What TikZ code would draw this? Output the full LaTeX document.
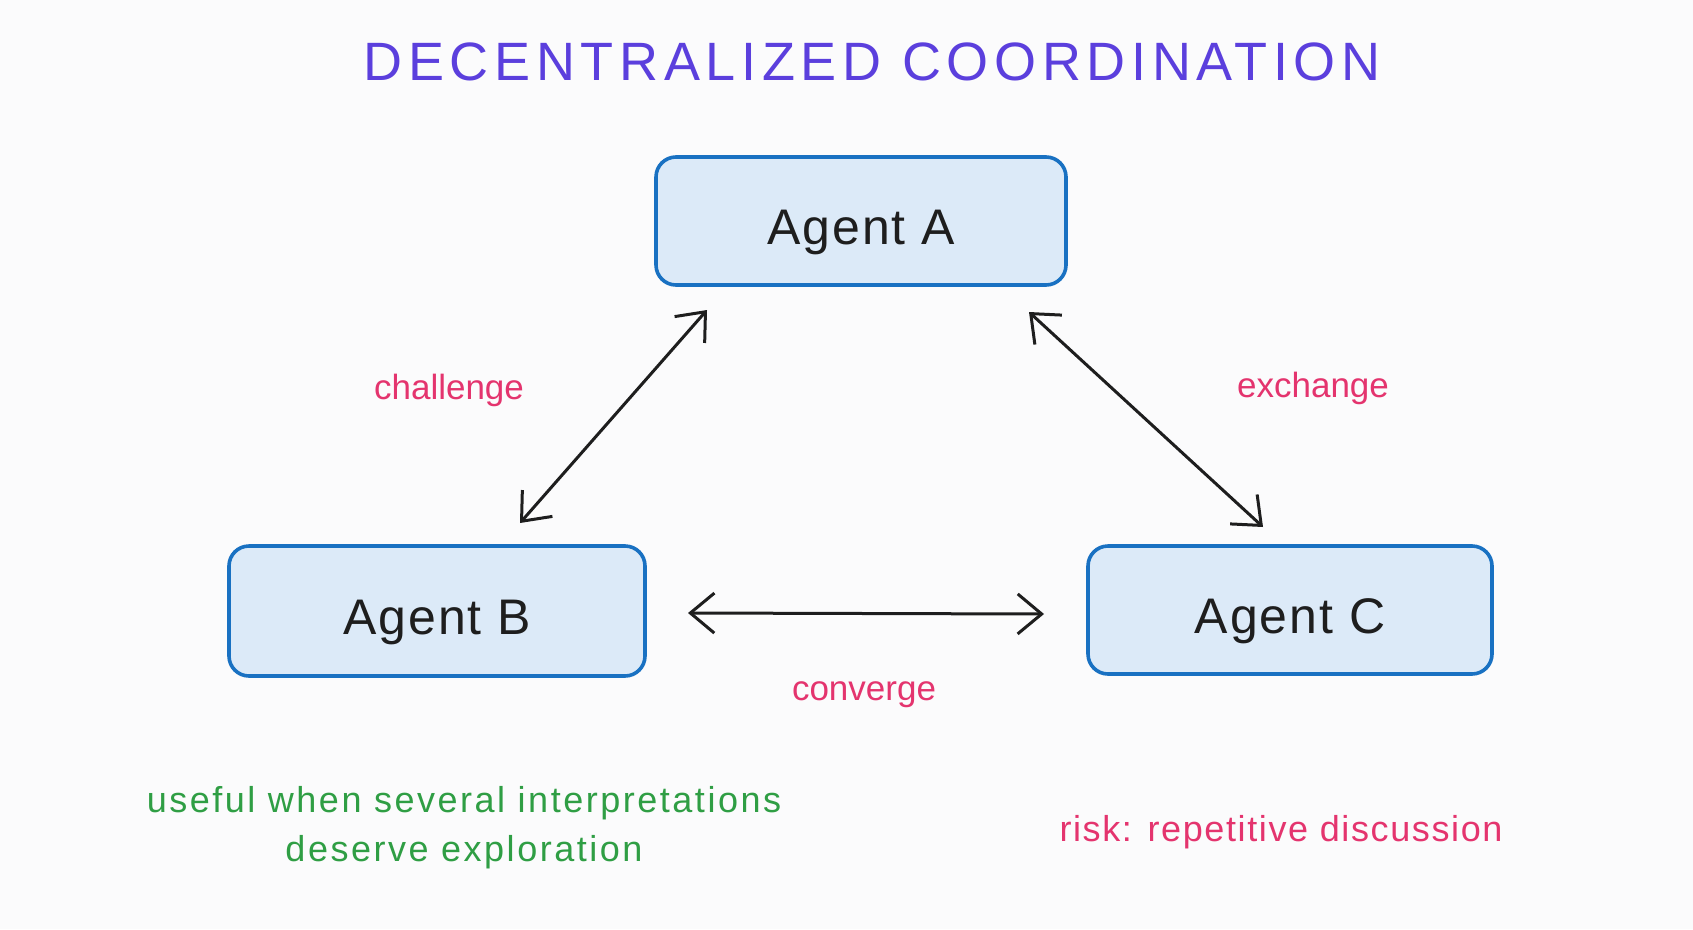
\documentclass[tikz,border=0pt]{standalone}
\usepackage{fontspec}
\setmainfont{Liberation Sans}
\newfontfamily\titlefont[LetterSpace=10.5]{Liberation Sans}
\newfontfamily\agentfont[LetterSpace=4]{Liberation Sans}
\newfontfamily\notefont[LetterSpace=7]{Liberation Sans}
\newfontfamily\riskfont[LetterSpace=4.5]{Liberation Sans}
\usetikzlibrary{arrows.meta,calc}
\definecolor{bgc}{HTML}{FBFBFC}
\definecolor{titlec}{HTML}{5B3FDD}
\definecolor{boxline}{HTML}{1971C2}
\definecolor{boxfill}{HTML}{DCEAF8}
\definecolor{pinkc}{HTML}{E4346E}
\definecolor{greenc}{HTML}{2F9E44}
\definecolor{inkc}{HTML}{1E1E1E}
\tikzset{
  agentbox/.style={draw=boxline, fill=boxfill, line width=3.6pt, rounded corners=20pt,
    minimum width=410pt, minimum height=128pt, text=inkc, text height=46pt, text depth=0pt,
    font=\agentfont\fontsize{50}{54}\selectfont},
  edgelabel/.style={text=pinkc, font=\fontsize{35}{40}\selectfont},
  notelabel/.style={font=\notefont\fontsize{36}{49}\selectfont, align=center},
  link/.style={draw=inkc, line width=3pt, line cap=round,
    {Straight Barb[length=24pt,width=40pt,line width=3pt]}-{Straight Barb[length=24pt,width=40pt,line width=3pt]}}
}
\begin{document}
\begin{tikzpicture}[x=1pt,y=-1pt]
\fill[bgc] (0,0) rectangle (1693,929);
\useasboundingbox (0,0) rectangle (1693,929);
\node[text=titlec, font=\titlefont\fontsize{54}{60}\selectfont] (title) at (872,62) {DECENTRALIZED COORDINATION};
\node[agentbox] (A) at (861,221) {Agent A};
\node[agentbox, minimum width=416pt, minimum height=130pt] (B) at (437,611) {Agent B};
\node[agentbox, minimum width=404pt] (C) at (1290,610) {Agent C};
\coordinate (ab1) at (707,310);
\coordinate (ab2) at (520,523);
\coordinate (ac1) at (1029,312);
\coordinate (ac2) at (1263,527);
\coordinate (bc1) at (688,613);
\coordinate (bc2) at (1044,614);
\draw[link] (ab1) -- (ab2);
\draw[link] (ac1) -- (ac2);
\draw[link] (bc1) -- (bc2);
\node[edgelabel] (l1) at (449,390) {challenge};
\node[edgelabel] (l2) at (1313,388) {exchange};
\node[edgelabel] (l3) at (864,695) {converge};
\node[notelabel, text=greenc] (n1) at (464,828) {useful when several interpretations\\deserve exploration};
\node[notelabel, text=pinkc, font=\riskfont\fontsize{36}{49}\selectfont] (n2) at (1281,832) {risk: repetitive discussion};
\end{tikzpicture}
\end{document}
